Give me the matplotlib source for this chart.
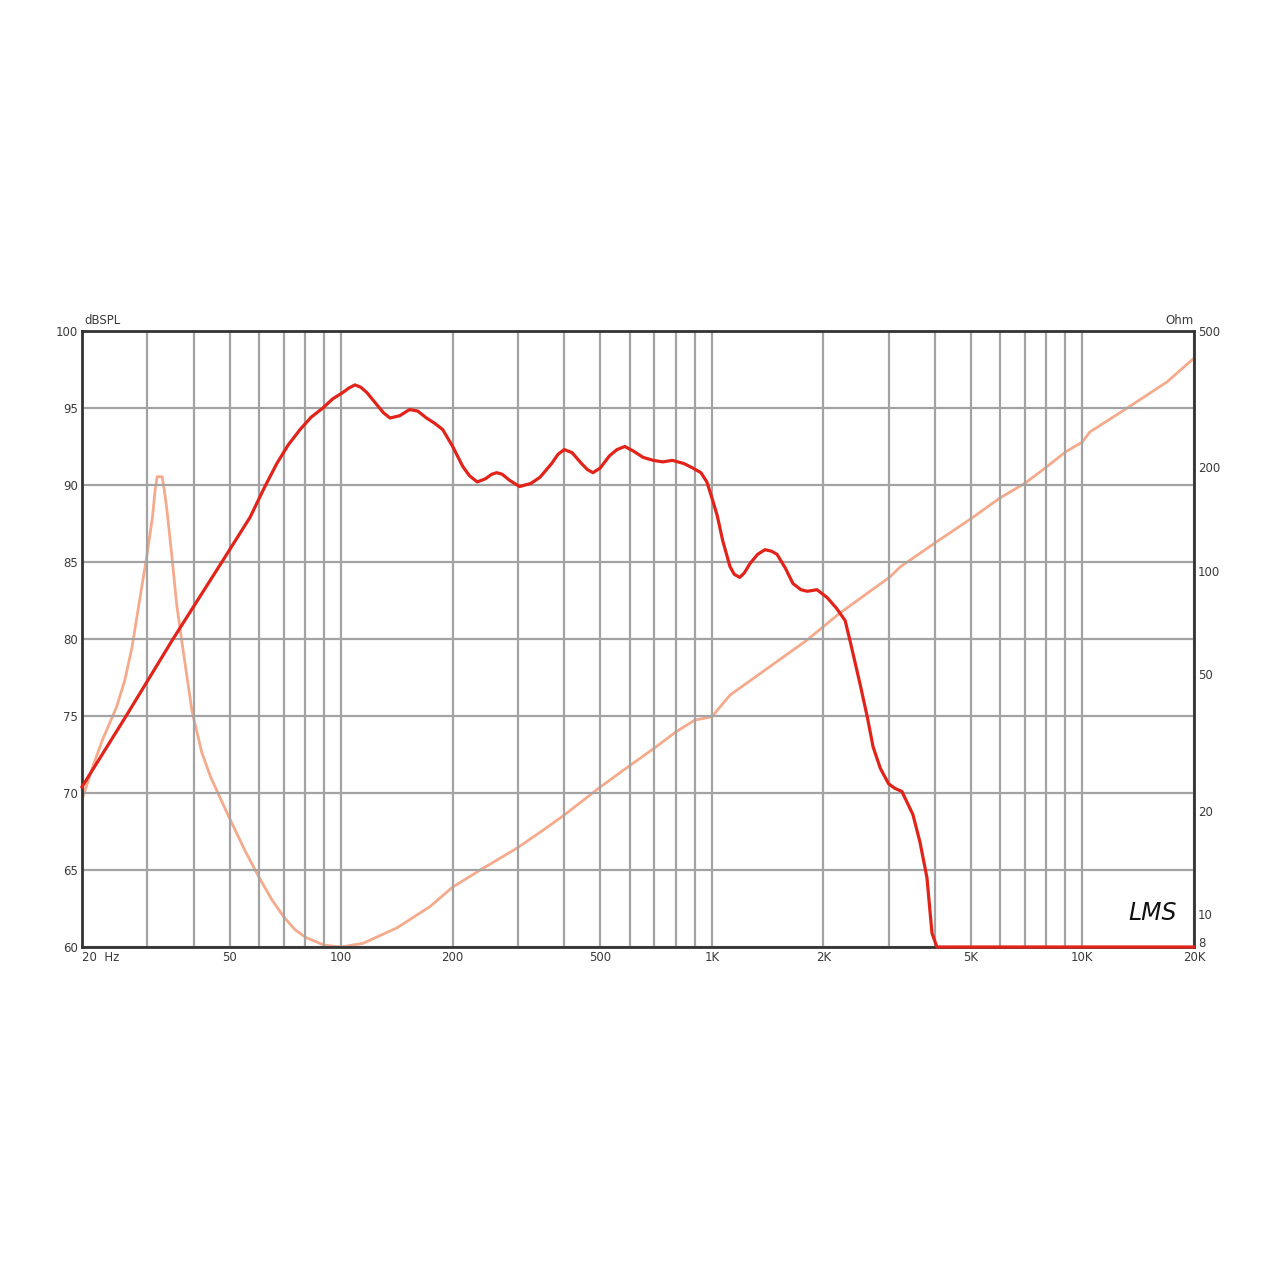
import numpy as np
import matplotlib
matplotlib.use("Agg")
import matplotlib.pyplot as plt

# SPL-Kurve (dB)
spl_freq = [20, 26, 35.2, 47.4, 56.8, 62, 67.1, 72, 77.5, 83, 89.3, 95, 101, 105, 109, 113, 117.4,
            125, 130, 135.5, 144, 153, 161, 170, 179, 188, 200, 213, 222, 233, 245, 255, 263, 272,
            285, 303, 325, 344, 370, 385, 400, 420, 445, 462, 478, 500, 530, 555, 583, 615,
            652, 695, 738, 782, 840, 889, 935, 970,
            1000, 1035, 1070, 1120, 1150, 1190, 1225, 1268, 1330, 1392, 1450, 1500, 1580, 1656,
            1740, 1810, 1922, 2046, 2170, 2290,
            2360, 2511, 2630, 2724, 2850, 3000, 3120, 3258, 3489, 3646, 3807, 3928, 4050, 20000]
spl_db = [70.4, 74.8, 80.0, 84.9, 87.9, 89.8, 91.4, 92.6, 93.6, 94.4, 95.0, 95.6, 96.0, 96.3, 96.5,
          96.35, 96.0, 95.2, 94.7, 94.35, 94.5, 94.9, 94.8, 94.35, 94.0, 93.6, 92.5, 91.2, 90.6,
          90.2, 90.4, 90.7, 90.8, 90.7, 90.3, 89.9, 90.1, 90.5, 91.4, 92.0, 92.3, 92.1, 91.4, 91.0,
          90.8, 91.1, 91.9, 92.3, 92.5, 92.2, 91.8, 91.6, 91.5, 91.6, 91.4, 91.1, 90.8, 90.2,
          89.2, 88.0, 86.4, 84.7, 84.2, 84.0, 84.3, 84.9, 85.5, 85.8, 85.7, 85.5, 84.6, 83.6,
          83.2, 83.1, 83.2, 82.7, 82.0, 81.2,
          79.9, 77.1, 74.9, 73.0, 71.6, 70.6, 70.3, 70.1, 68.6, 66.8, 64.5, 60.9, 60.0, 60.0]

# Impedanz (Ohm)
imp_freq = [20, 21.3, 22.7, 24.8, 26.1, 27.3, 28.6, 29.9, 31.0, 31.5, 31.9, 32.9, 33.4, 33.9,
            34.9, 36.0, 37.2, 39.6, 42.1, 44.5, 47.9, 50, 55, 60, 65, 70, 75, 80, 90, 100,
            114.6, 141.6, 173.8, 200, 237, 300, 350, 400, 500, 600, 700, 800, 900, 1000, 1120,
            1807, 2218, 3027, 3220, 4000, 5035, 5990, 7000, 8000, 9000, 9980, 10480, 13200,
            16900, 19870]
imp_ohm = [21.5, 26.5, 32.1, 40.1, 48, 60, 82, 110, 144, 172, 188, 188, 170, 150,
           112, 80, 62, 39, 29.5, 25, 21, 19, 15.3, 12.8, 11.0, 9.8, 9.0, 8.55, 8.1, 8.0,
           8.2, 9.1, 10.5, 11.96, 13.4, 15.6, 17.5, 19.4, 23.4, 27.0, 30.4, 33.9, 36.7, 37.5, 43.4,
           62.8, 75.3, 96, 102.5, 120.5, 142.5, 163, 180, 200.7, 222, 237, 254, 298,
           355, 414]

grid_freqs = [20, 30, 40, 50, 60, 70, 80, 90, 100, 200, 300, 400, 500, 600, 700, 800, 900,
              1000, 2000, 3000, 4000, 5000, 6000, 7000, 8000, 9000, 10000, 20000]
freq_labels = {20: "20  Hz", 50: "50", 100: "100", 200: "200", 500: "500", 1000: "1K",
               2000: "2K", 5000: "5K", 10000: "10K", 20000: "20K"}
db_ticks = [60, 65, 70, 75, 80, 85, 90, 95, 100]
ohm_ticks = [8, 10, 20, 50, 100, 200, 500]

txt = "#3a3a3a"
fig = plt.figure(figsize=(12.8, 12.8), dpi=100)
ax = fig.add_axes([82 / 1280, 1 - 947 / 1280, 1112 / 1280, 616 / 1280])
ax.set_xscale("log")
ax.set_xlim(20, 20000)
ax.set_ylim(60, 100)
ax.set_xticks(grid_freqs)
ax.set_xticks([], minor=True)
ax.set_xticklabels([freq_labels.get(f, "") for f in grid_freqs])
ax.get_xticklabels()[0].set_ha("left")
ax.set_yticks(db_ticks)
ax.set_yticklabels([str(v) for v in db_ticks])
ax.tick_params(length=0, labelsize=8.5, labelcolor=txt, pad=3)
ax.grid(True, color="#a3a3a3", linewidth=1.6)
ax.set_axisbelow(True)
for s in ax.spines.values():
    s.set_color("#333333")
    s.set_linewidth(2)

ax2 = ax.twinx()
ax2.set_yscale("log")
ax2.set_ylim(8, 500)
ax2.set_yticks(ohm_ticks)
ax2.set_yticks([], minor=True)
ax2.set_yticklabels([str(v) for v in ohm_ticks])
ax2.tick_params(length=0, labelsize=8.5, labelcolor=txt, pad=3)
ax2.get_yticklabels()[0].set_va("baseline")
for s in ax2.spines.values():
    s.set_visible(False)

ax2.plot(imp_freq, imp_ohm, color="#f5aa8c", linewidth=2.0, zorder=3)
ax.plot(spl_freq, spl_db, color="#e2231a", linewidth=2.3, zorder=4, clip_on=False)
ax.set_zorder(ax2.get_zorder() + 1)
ax.patch.set_visible(False)

ax.text(0.002, 1.006, "dBSPL", transform=ax.transAxes, fontsize=8.5, color=txt,
        ha="left", va="bottom")
ax.text(1.0, 1.006, "Ohm", transform=ax.transAxes, fontsize=8.5, color=txt,
        ha="right", va="bottom")
ax.text(0.963, 0.055, "LMS", transform=ax.transAxes, fontsize=17, color="#111111",
        ha="center", va="center", fontstyle="italic")

fig.savefig("out.png", dpi=100, facecolor="white")
